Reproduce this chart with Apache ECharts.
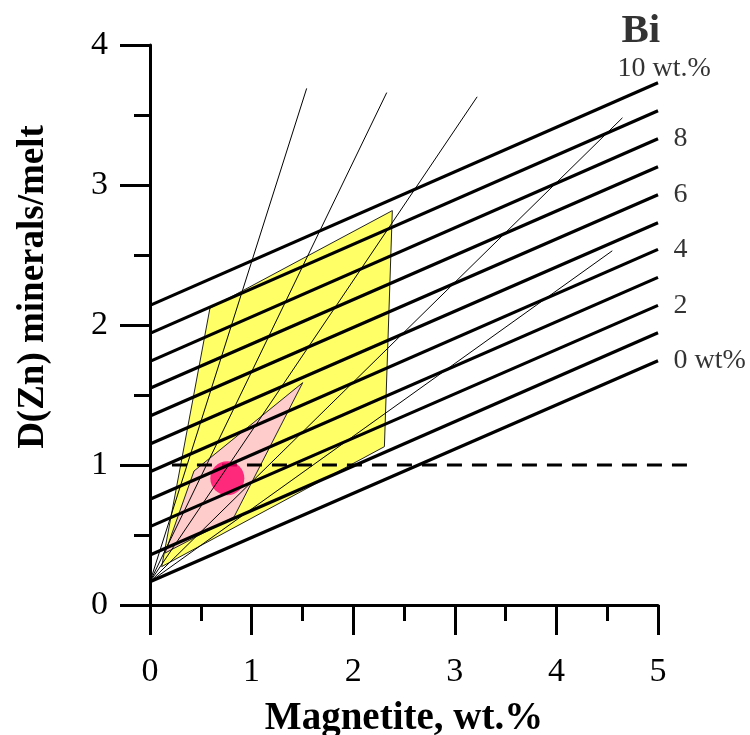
<!DOCTYPE html>
<html>
<head>
<meta charset="utf-8">
<script src="https://cdn.jsdelivr.net/npm/echarts@6/dist/echarts.min.js"></script>
<style>html,body{margin:0;padding:0;background:#fff}#chart{width:750px;height:735px}</style>
</head>
<body>
<div id="chart"></div>
<script>
// Bi isopleths (thick lines), value at Magnetite = 0 and at Magnetite = 5
const biLevels = [0, 1, 2, 3, 4, 5, 6, 7, 8, 9, 10];
const biStart = [0.166, 0.357, 0.56, 0.755, 0.952, 1.15, 1.35, 1.548, 1.74, 1.94, 2.14];
const biEnd = [1.745, 1.945, 2.14, 2.34, 2.54, 2.73, 2.93, 3.13, 3.33, 3.53, 3.73];
const biLabelText = ['0 wt%', '', '2', '', '4', '', '6', '', '8', '', '10 wt.%'];
const xMagnetiteEnd = 5;
// thin fan lines from a common origin
const fanOrigin = [0, 0.166];
const fanEnds = [[1.542, 3.69], [2.33, 3.66], [3.22, 3.63], [4.65, 3.48], [4.55, 2.53]];
// fields
const yellowField = [[0.115, 0.274], [0.59, 2.12], [2.385, 2.817], [2.307, 1.131]];
const pinkField = [[0.148, 0.371], [0.433, 0.957], [1.503, 1.588], [0.827, 0.629]];
// sample point
const samplePoint = [[0.761, 0.905]];
// D = 1 reference line
const refLine = [[0.216, 1], [5.345, 1]];
const xTicks = [0, 1, 2, 3, 4, 5];
const yTicks = [0, 1, 2, 3, 4];

const FONT = 'Liberation Serif';
const chart = echarts.init(document.getElementById('chart'), null, {renderer: 'canvas'});

function polygonSeries(pts, fill) {
  return {
    type: 'custom',
    data: pts,
    silent: true,
    renderItem: function (params, api) {
      if (params.dataIndex !== 0) return;
      const points = pts.map(p => api.coord(p));
      return {type: 'polygon', shape: {points: points},
        style: {fill: fill, stroke: '#222', lineWidth: 1}};
    }
  };
}

const series = [];
series.push(polygonSeries(yellowField, '#ffff66'));
series.push(polygonSeries(pinkField, '#ffcccc'));
fanEnds.forEach(function (e) {
  series.push({type: 'line', data: [fanOrigin, e], symbol: 'none', silent: true,
    lineStyle: {color: '#000', width: 1}});
});
biLevels.forEach(function (b, i) {
  series.push({type: 'line', data: [[0, biStart[i]], [xMagnetiteEnd, biEnd[i]]], symbol: 'none', silent: true,
    lineStyle: {color: '#000', width: 3.2}});
});
// dashed D = 1 line, drawn unclipped so it runs past the axis end
series.push({
  type: 'custom', data: refLine, silent: true, clip: false,
  renderItem: function (params, api) {
    if (params.dataIndex !== 0) return;
    const a = api.coord(refLine[0]);
    const b = api.coord(refLine[1]);
    return {type: 'line', shape: {x1: a[0], y1: a[1], x2: b[0], y2: b[1]},
      style: {stroke: '#000', lineWidth: 3, lineDash: [15, 10]}};
  }
});
series.push({type: 'scatter', data: samplePoint, symbolSize: 34, silent: true,
  itemStyle: {color: '#ff0066'}});
// label anchors at the ends of the Bi lines
const labelData = [];
biLevels.forEach(function (b, i) {
  const t = biLabelText[i];
  if (!t) return;
  if (i === 10) {
    labelData.push({value: [xMagnetiteEnd, biEnd[i]], label: {show: true,
      position: [-40, 1], align: 'left', verticalAlign: 'bottom',
      formatter: '{b|Bi}\n{n|10 wt.%}',
      rich: {b: {fontFamily: FONT, fontWeight: 'bold', fontSize: 41, lineHeight: 44, color: '#000', padding: [0, 0, 0, 4]},
             n: {fontFamily: FONT, fontSize: 28, lineHeight: 30, color: '#000'}}}});
  } else {
    labelData.push({value: [xMagnetiteEnd, biEnd[i]], label: {show: true, position: 'right',
      distance: 15, formatter: t, fontFamily: FONT, fontSize: 28, color: '#000'}});
  }
});
series.push({type: 'scatter', data: labelData, symbolSize: 1, silent: true, clip: false,
  itemStyle: {color: 'rgba(0,0,0,0)'}});

const axisCommon = {
  type: 'value',
  axisLine: {show: true, onZero: false, lineStyle: {color: '#000', width: 3}},
  axisTick: {show: true, length: 30, lineStyle: {color: '#000', width: 3}},
  minorTick: {show: true, splitNumber: 2, length: 16, lineStyle: {color: '#000', width: 3}},
  splitLine: {show: false},
  minorSplitLine: {show: false}
};

chart.setOption({
  animation: false,
  backgroundColor: '#fff',
  grid: {left: 150, right: 92, top: 45, bottom: 130, containLabel: false, outerBoundsMode: 'none'},
  xAxis: Object.assign({}, axisCommon, {
    min: xTicks[0], max: xTicks[xTicks.length - 1], interval: 1,
    axisLabel: {fontFamily: FONT, fontSize: 34, color: '#000', margin: 50},
    name: 'Magnetite, wt.%', nameLocation: 'middle', nameGap: 94,
    nameTextStyle: {fontFamily: FONT, fontWeight: 'bold', fontSize: 39, color: '#000'}
  }),
  yAxis: Object.assign({}, axisCommon, {
    min: yTicks[0], max: yTicks[yTicks.length - 1], interval: 1,
    axisLabel: {fontFamily: FONT, fontSize: 34, color: '#000', margin: 42},
    name: 'D(Zn) minerals/melt', nameLocation: 'middle', nameGap: 98,
    nameTextStyle: {fontFamily: FONT, fontWeight: 'bold', fontSize: 37, color: '#000', padding: [0, 0, 0, 76]}
  }),
  series: series
});
</script>
</body>
</html>
